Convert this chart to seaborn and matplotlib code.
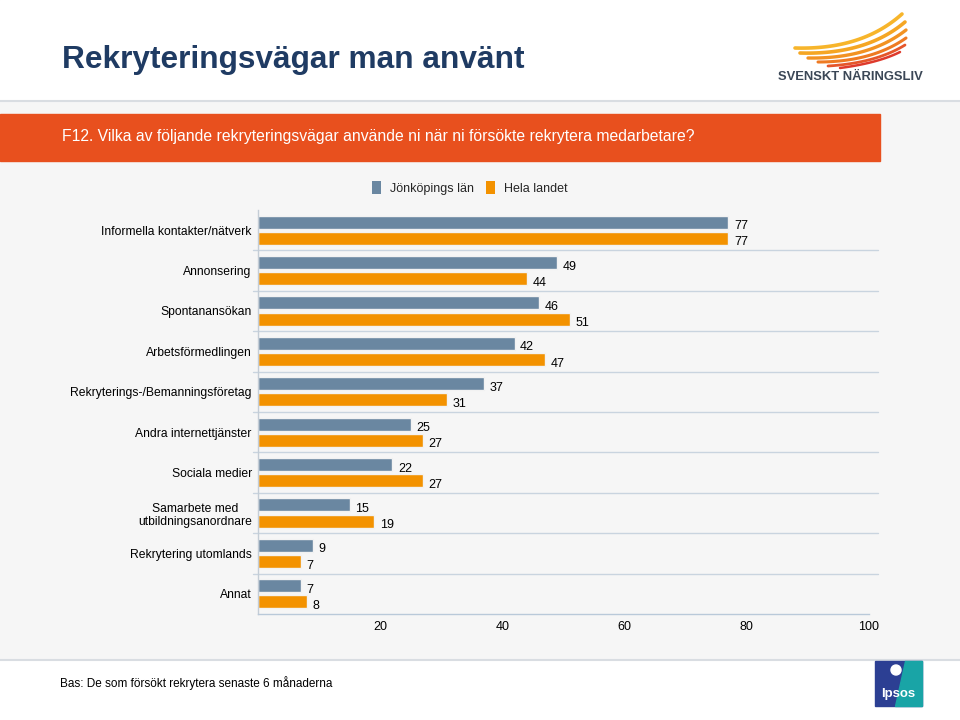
import numpy as np
import pandas as pd
import matplotlib
matplotlib.use("Agg")
import matplotlib.pyplot as plt
from matplotlib.patches import Rectangle, Polygon, Patch
import seaborn as sns

# ---- data ----
categories = [
    "Informella kontakter/nätverk",
    "Annonsering",
    "Spontanansökan",
    "Arbetsförmedlingen",
    "Rekryterings-/Bemanningsföretag",
    "Andra internettjänster",
    "Sociala medier",
    "Samarbete med\nutbildningsanordnare",
    "Rekrytering utomlands",
    "Annat",
]
series_names = ["Jönköpings län", "Hela landet"]
jonkoping = [77, 49, 46, 42, 37, 25, 22, 15, 9, 7]
hela_landet = [77, 44, 51, 47, 31, 27, 27, 19, 7, 8]
x_ticks = [20, 40, 60, 80, 100]

title = "Rekryteringsvägar man använt"
question = "F12. Vilka av följande rekryteringsvägar använde ni när ni försökte rekrytera medarbetare?"
footnote = "Bas: De som försökt rekrytera senaste 6 månaderna"

colors = ["#6A87A1", "#F39200"]

df = pd.DataFrame({
    "Kategori": categories * 2,
    "Värde": jonkoping + hela_landet,
    "Serie": [series_names[0]] * len(categories) + [series_names[1]] * len(categories),
})

sns.set_theme(style="white")
plt.rcParams["font.family"] = ["Liberation Sans", "DejaVu Sans"]

W, H = 960, 720
fig = plt.figure(figsize=(9.6, 7.2), dpi=100)
fig.patch.set_facecolor("#F6F6F6")

# ---- decoration layer (pixel coordinates) ----
deco = fig.add_axes([0, 0, 1, 1], zorder=0)
deco.set_xlim(0, W)
deco.set_ylim(H, 0)
deco.axis("off")
deco.add_patch(Rectangle((0, 0), W, 100, color="white", zorder=0))
deco.add_patch(Rectangle((0, 660), W, 60, color="white", zorder=0))
deco.plot([0, W], [101, 101], color="#D9DDE2", lw=1.5)
deco.plot([0, W], [660, 660], color="#D9DDE2", lw=1.5)
deco.add_patch(Rectangle((0, 114), 880, 47, color="#E8501E", zorder=1))
deco.text(62, 60, title, fontsize=22.8, fontweight="bold", color="#1F3B63",
          ha="left", va="center")
deco.text(62, 137, question, fontsize=11.3, color="white", ha="left", va="center")
deco.text(60, 683, footnote, fontsize=8.5, color="black", ha="left", va="center")

# Svenskt Näringsliv logo
def bez(p0, p1, p2, n=40):
    t = np.linspace(0, 1, n)[:, None]
    return (1 - t) ** 2 * np.array(p0) + 2 * (1 - t) * t * np.array(p1) + t ** 2 * np.array(p2)

wing_specs = [
    ((795, 48), (862, 50), (902, 14), "#F7B52B", 2.6),
    ((800, 53), (866, 55), (905, 22), "#F5A623", 2.6),
    ((808, 58), (869, 59), (906, 30), "#F29222", 2.4),
    ((818, 62), (872, 62), (906, 38), "#EE7A22", 2.2),
    ((828, 66), (876, 63), (905, 45), "#E5562A", 2.0),
    ((840, 68), (878, 63), (900, 52), "#DE3A2C", 1.8),
]
for p0, p1, p2, c, lw in wing_specs:
    pts = bez(p0, p1, p2)
    deco.plot(pts[:, 0], pts[:, 1], color=c, lw=lw, solid_capstyle="round")
deco.text(850, 77, "SVENSKT NÄRINGSLIV", fontsize=9.4, fontweight="bold",
          color="#3B4756", ha="center", va="center")

# Ipsos logo
deco.add_patch(Rectangle((875, 661), 47, 45, color="#2C3F93", zorder=2))
deco.add_patch(Polygon([(905, 661), (922, 661), (922, 706), (895, 706)],
                       closed=True, color="#19A4A6", zorder=2))
deco.add_patch(plt.Circle((896, 670), 5, color="white", zorder=3))
deco.text(898, 694, "Ipsos", fontsize=9.5, fontweight="bold", color="white",
          ha="center", va="center", zorder=4)

# ---- chart ----
left_px, right_px, top_px, bot_px = 258, 869, 210, 614
ax = fig.add_axes([left_px / W, 1 - bot_px / H, (right_px - left_px) / W,
                   (bot_px - top_px) / H], zorder=1)
ax.set_facecolor("none")

sns.barplot(data=df, y="Kategori", x="Värde", hue="Serie", orient="h",
            palette=colors, saturation=1, width=0.8, gap=0.2, ax=ax,
            edgecolor="#F2F2F2", linewidth=1.0, legend=False)

ax.set_xlim(0, 100)
ax.set_ylim(len(categories) - 0.5, -0.5)
ax.set_xticks(x_ticks)
ax.set_xticklabels([str(v) for v in x_ticks])
ax.set_xlabel("")
ax.set_ylabel("")
ax.tick_params(axis="x", length=0, pad=5, labelsize=9, labelcolor="black")
ax.tick_params(axis="y", length=0, pad=4.5, labelsize=8.7, labelcolor="black")
for lbl in ax.get_yticklabels():
    lbl.set_horizontalalignment("right")
    lbl.set_multialignment("center")

for s in ["top", "right"]:
    ax.spines[s].set_visible(False)
ax.spines["left"].set_color("#C4CDD6")
ax.spines["bottom"].set_color("#B9C9D9")
ax.spines["left"].set_linewidth(1.0)
ax.spines["bottom"].set_linewidth(1.0)

for i in range(len(categories) - 1):
    ax.plot([-0.8, 101.5], [i + 0.5, i + 0.5], color="#C9D4DF", lw=1.0,
            clip_on=False, zorder=0)

for cont in ax.containers:
    for bar in cont:
        w = bar.get_width()
        ax.annotate(f"{w:.0f}", (w, bar.get_y() + bar.get_height() / 2),
                    xytext=(4, -3), textcoords="offset points",
                    ha="left", va="center", fontsize=9, color="black")

# legend
handles = [Patch(facecolor=c, edgecolor="none") for c in colors]
fig.legend(handles, series_names, loc="center",
           bbox_to_anchor=(470 / W, 1 - 188 / H), ncol=2, frameon=False,
           fontsize=9, handlelength=0.7, handleheight=1.2, handletextpad=0.7,
           columnspacing=1.0)

fig.savefig("out.png", dpi=100, facecolor=fig.get_facecolor())
